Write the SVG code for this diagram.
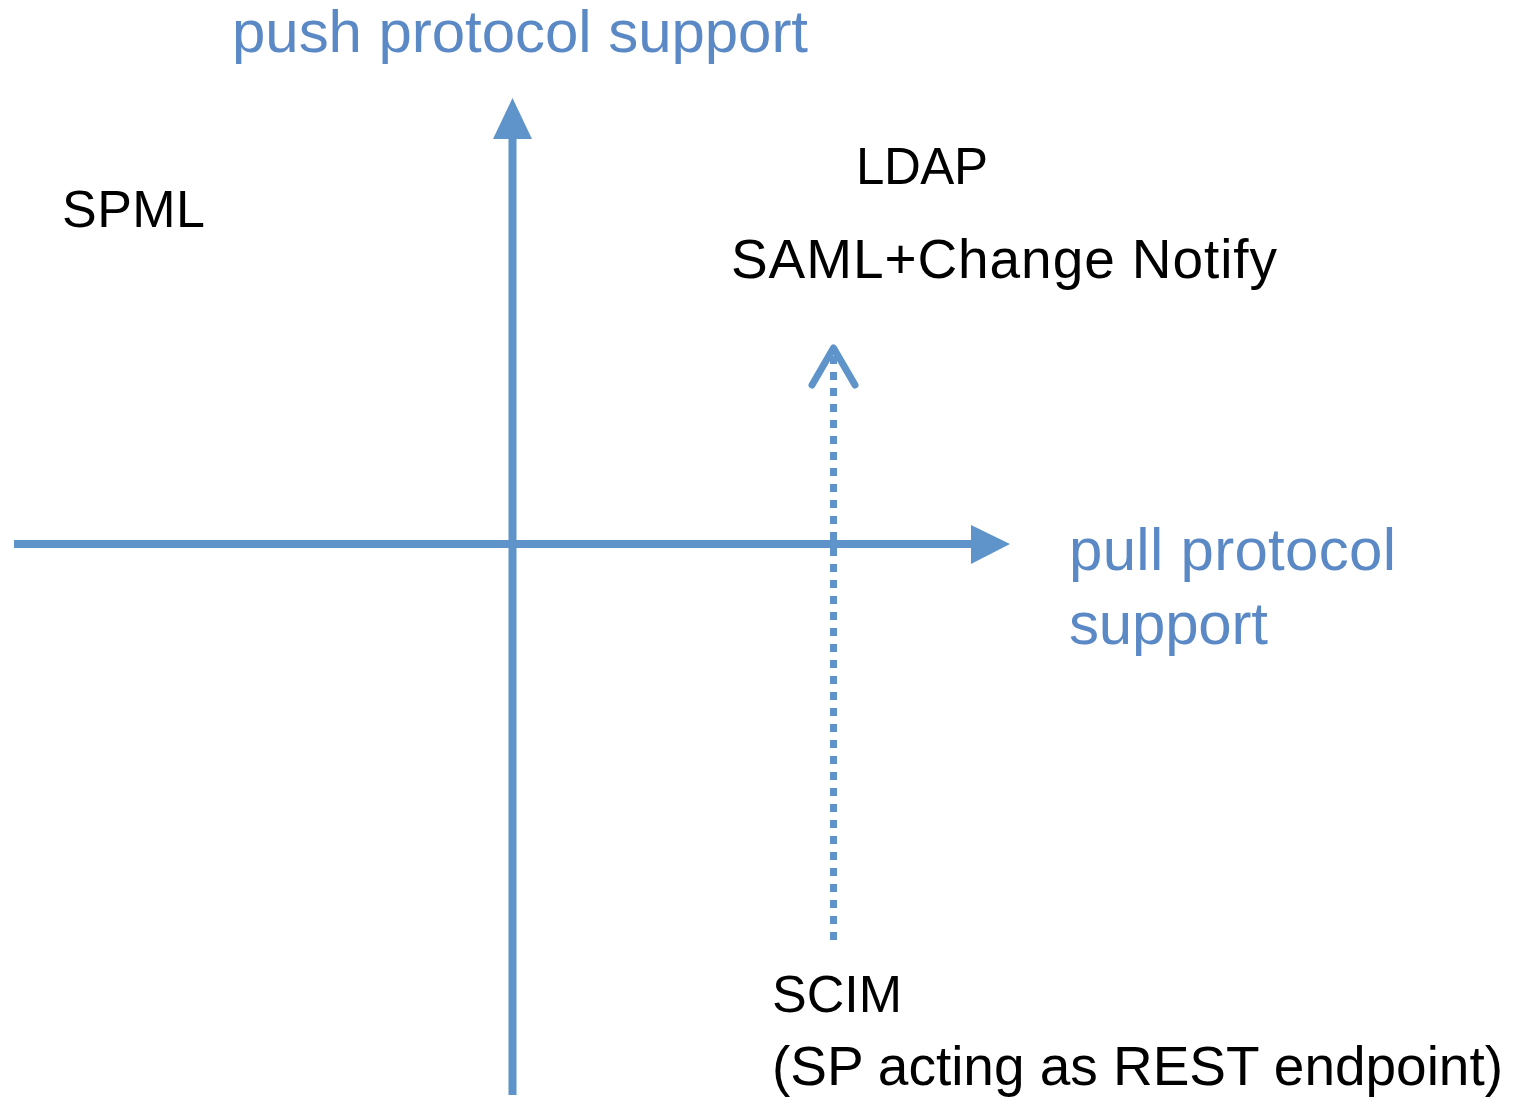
<svg xmlns="http://www.w3.org/2000/svg" width="1514" height="1100" viewBox="0 0 1514 1100">
<style>
.ax{stroke:#5E94CA;stroke-width:8;fill:none}
.hd{fill:#5E94CA}
.blue{font-family:"Liberation Sans",Arial,sans-serif;font-size:60px;fill:#5A89C5}
.blk{font-family:"Liberation Sans",Arial,sans-serif;font-size:55px;fill:#000}
</style>
<rect width="1514" height="1100" fill="#fff"/>
<g id="connectors">
<line class="ax" x1="512.5" y1="136" x2="512.5" y2="1095"/>
<polygon class="hd" points="493,139 512.5,98 532,139"/>
<line class="ax" x1="14" y1="544" x2="973" y2="544"/>
<polygon class="hd" points="971,525 1010,544 971,564"/>
<line x1="833.5" y1="356" x2="833.5" y2="941" stroke="#5E94CA" stroke-width="7" stroke-dasharray="8 8"/>
<polyline points="812,385 833.5,348 855,385" fill="none" stroke="#5E94CA" stroke-width="7" stroke-linecap="round" stroke-linejoin="round"/>
</g>
<g id="push-label"><text class="blue" x="232" y="52" textLength="576">push protocol support</text></g>
<g id="pull-label"><text class="blue" x="1069" y="570" textLength="327">pull protocol</text><text class="blue" x="1069" y="644" textLength="199">support</text></g>
<g id="spml"><text class="blk" x="62" y="227" style="font-size:52px" textLength="143">SPML</text></g>
<g id="ldap"><text class="blk" x="856" y="184" style="font-size:51px" textLength="132">LDAP</text></g>
<g id="saml"><text class="blk" x="731" y="278" textLength="546">SAML+Change Notify</text></g>
<g id="scim"><text class="blk" x="772" y="1012" style="font-size:52px" textLength="130">SCIM</text><text class="blk" x="772" y="1085" textLength="731">(SP acting as REST endpoint)</text></g>
</svg>
